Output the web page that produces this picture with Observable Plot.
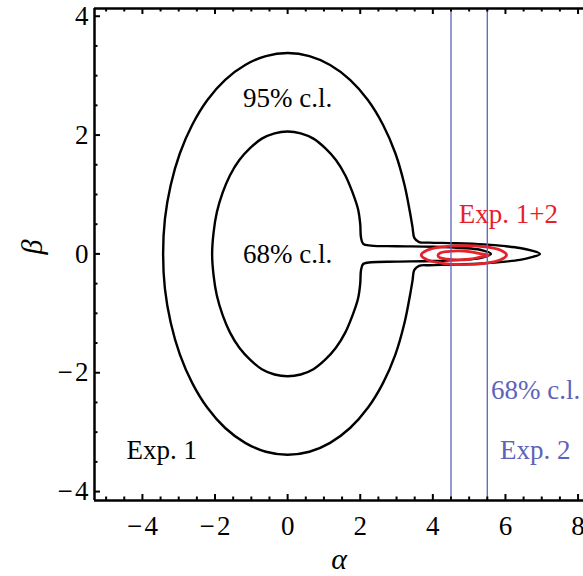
<!DOCTYPE html>
<html><head><meta charset="utf-8">
<script src="https://cdn.jsdelivr.net/npm/d3@7"></script>
<script src="https://cdn.jsdelivr.net/npm/@observablehq/plot@0.6"></script>
<style>html,body{margin:0;padding:0;background:#fff;overflow:hidden}</style>
</head><body><div id="chart"></div>
<script>
// Exp. 1 contours (alpha, beta)
const contour95 = [
  [6.95,0],[6.7,0.06],[6.4,0.10],[6.0,0.13],[5.4,0.16],[4.6,0.18],[3.9,0.19],[3.62,0.20],
  [3.49,0.27],[3.44,0.45],[3.37,0.70],[3.22,1.16],[2.97,1.69],[2.63,2.17],[2.21,2.59],
  [1.72,2.93],[1.17,3.18],[0.60,3.33],[0,3.38],[-0.60,3.33],[-1.17,3.18],[-1.72,2.93],
  [-2.21,2.59],[-2.63,2.17],[-2.97,1.69],[-3.22,1.16],[-3.38,0.59],[-3.43,0],
  [-3.38,-0.59],[-3.22,-1.16],[-2.97,-1.69],[-2.63,-2.17],[-2.21,-2.59],[-1.72,-2.93],
  [-1.17,-3.18],[-0.60,-3.33],[0,-3.38],[0.60,-3.33],[1.17,-3.18],[1.72,-2.93],
  [2.21,-2.59],[2.63,-2.17],[2.97,-1.69],[3.22,-1.16],[3.37,-0.70],[3.44,-0.45],
  [3.49,-0.27],[3.62,-0.20],[3.9,-0.19],[4.6,-0.18],[5.4,-0.16],[6.0,-0.13],[6.4,-0.10],[6.7,-0.06]
];
const contour68 = [
  [5.6,0],[5.3,0.07],[4.8,0.10],[4.0,0.12],[3.0,0.13],[2.3,0.14],[2.08,0.17],[2.02,0.28],
  [2.0,0.50],[1.94,0.75],[1.79,1.03],[1.59,1.32],[1.33,1.58],[1.035,1.78],[0.71,1.94],
  [0.36,2.03],[0,2.06],[-0.36,2.03],[-0.71,1.94],[-1.035,1.78],[-1.33,1.58],[-1.59,1.32],
  [-1.79,1.03],[-1.95,0.70],[-2.04,0.36],[-2.08,0],[-2.04,-0.36],[-1.95,-0.70],
  [-1.79,-1.03],[-1.59,-1.32],[-1.33,-1.58],[-1.035,-1.78],[-0.71,-1.94],[-0.36,-2.03],
  [0,-2.06],[0.36,-2.03],[0.71,-1.94],[1.035,-1.78],[1.33,-1.58],[1.59,-1.32],
  [1.79,-1.03],[1.94,-0.75],[2.0,-0.50],[2.02,-0.28],[2.08,-0.17],[2.3,-0.14],
  [3.0,-0.13],[4.0,-0.12],[4.8,-0.10],[5.3,-0.07]
];
// Exp. 1+2 combined contours
const combined95 = [
  [6.03,-0.02],[5.87,0.06],[5.44,0.118],[4.855,0.14],[4.27,0.118],[3.84,0.06],
  [3.68,-0.02],[3.84,-0.10],[4.27,-0.158],[4.855,-0.18],[5.44,-0.158],[5.87,-0.10]
];
const combined68 = [
  [5.53,-0.025],[5.3,0.005],[5.0,0.04],[4.7,0.05],[4.4,0.04],[4.2,0.015],[4.14,-0.025],
  [4.2,-0.065],[4.4,-0.09],[4.7,-0.10],[5.0,-0.09],[5.3,-0.055]
];
// Exp. 2 68% c.l. band on alpha
const exp2Band = [4.5, 5.5];

// Labels
const labelText  = ["95% c.l.", "68% c.l.", "Exp. 1", "Exp. 1+2", "68% c.l.", "Exp. 2"];
const labelAlpha = [0, 0, -3.47, 6.08, 6.83, 6.82];
const labelBeta  = [2.62, 0, -3.31, 0.67, -2.3, -3.31];
const labelGroup = ["exp1", "exp1", "exp1", "comb", "exp2", "exp2"];

// Axes
const xDomain = [-5.32, 8.15];
const yDomain = [-4.15, 4.13];
const xMajor = [-4, -2, 0, 2, 4, 6, 8];
const xMinor = [-5,-4.5,-3.5,-3,-2.5,-1.5,-1,-0.5,0.5,1,1.5,2.5,3,3.5,4.5,5,5.5,6.5,7,7.5];
const yMajor = [-4, -2, 0, 2, 4];
const yMinor = [-3.5,-3,-2.5,-1.5,-1,-0.5,0.5,1,1.5,2.5,3,3.5];

const W = 583, H = 576, mL = 94, mR = 0, mT = 8, mB = 76;
const plotW = W - mL - mR, plotH = H - mT - mB;
const RED = "#e8202a", BLUE = "#5d62bb";
const colorOf = {exp1: "#000", comb: RED, exp2: BLUE};

const rows = (name, pts) => pts.map(([a, b]) => ({name, a, b}));
const blackRows = [...rows("c95", contour95), ...rows("c68", contour68)];
const redRows = [...rows("r95", combined95), ...rows("r68", combined68)];
const labels = labelText.map((t, i) => ({t, a: labelAlpha[i], b: labelBeta[i], g: labelGroup[i]}));
const fmt = d => d < 0 ? "\u2212\u200A" + (-d) : String(d);
const serif = "'Liberation Serif', 'Times New Roman', serif";

const MAJ = 6, MIN = 3.5;
const chart = Plot.plot({
  width: W, height: H, marginLeft: mL, marginRight: mR, marginTop: mT, marginBottom: mB,
  style: {fontFamily: serif, fontSize: "27px", background: "#fff", color: "#000", overflow: "visible"},
  x: {domain: xDomain},
  y: {domain: yDomain},
  marks: [
    Plot.line(blackRows, {x: "a", y: "b", z: "name", curve: "catmull-rom-closed", stroke: "#000", strokeWidth: 2.4}),
    Plot.line(redRows, {x: "a", y: "b", z: "name", curve: "catmull-rom-closed", stroke: RED, strokeWidth: 2.8}),
    Plot.ruleX(exp2Band, {x: d => d, stroke: BLUE, strokeWidth: 1.3}),
    Plot.text(labels, {x: "a", y: "b", text: "t", fill: d => colorOf[d.g], fontSize: 27, fontFamily: serif}),
    // inward ticks: bottom, top, left
    Plot.tickX(xMajor, {x: d => d, insetTop: plotH - MAJ, strokeWidth: 2}),
    Plot.tickX(xMinor, {x: d => d, insetTop: plotH - MIN, strokeWidth: 2}),
    Plot.tickX(xMajor, {x: d => d, insetBottom: plotH - MAJ, strokeWidth: 2}),
    Plot.tickX(xMinor, {x: d => d, insetBottom: plotH - MIN, strokeWidth: 2}),
    Plot.tickY(yMajor, {y: d => d, insetRight: plotW - MAJ, strokeWidth: 2}),
    Plot.tickY(yMinor, {y: d => d, insetRight: plotW - MIN, strokeWidth: 2}),
    // frame
    Plot.ruleX([xDomain[0]], {x: d => d, strokeWidth: 2.5}),
    Plot.ruleY(yDomain, {y: d => d, strokeWidth: 2.5}),
    Plot.axisX(xMajor, {tickSize: 0, tickPadding: 15, tickFormat: fmt, fontSize: 27, fontFamily: serif, label: null}),
    Plot.axisY(yMajor, {tickSize: 0, tickPadding: 6, tickFormat: fmt, fontSize: 27, fontFamily: serif, label: null}),
    Plot.text(["α"], {text: d => d, frameAnchor: "bottom", dy: 68, fontStyle: "italic", fontSize: 30, fontFamily: serif}),
    Plot.text(["β"], {text: d => d, frameAnchor: "left", dx: -62, rotate: -90, fontStyle: "italic", fontSize: 30, fontFamily: serif})
  ]
});
document.getElementById("chart").append(chart);
</script>
</body></html>
